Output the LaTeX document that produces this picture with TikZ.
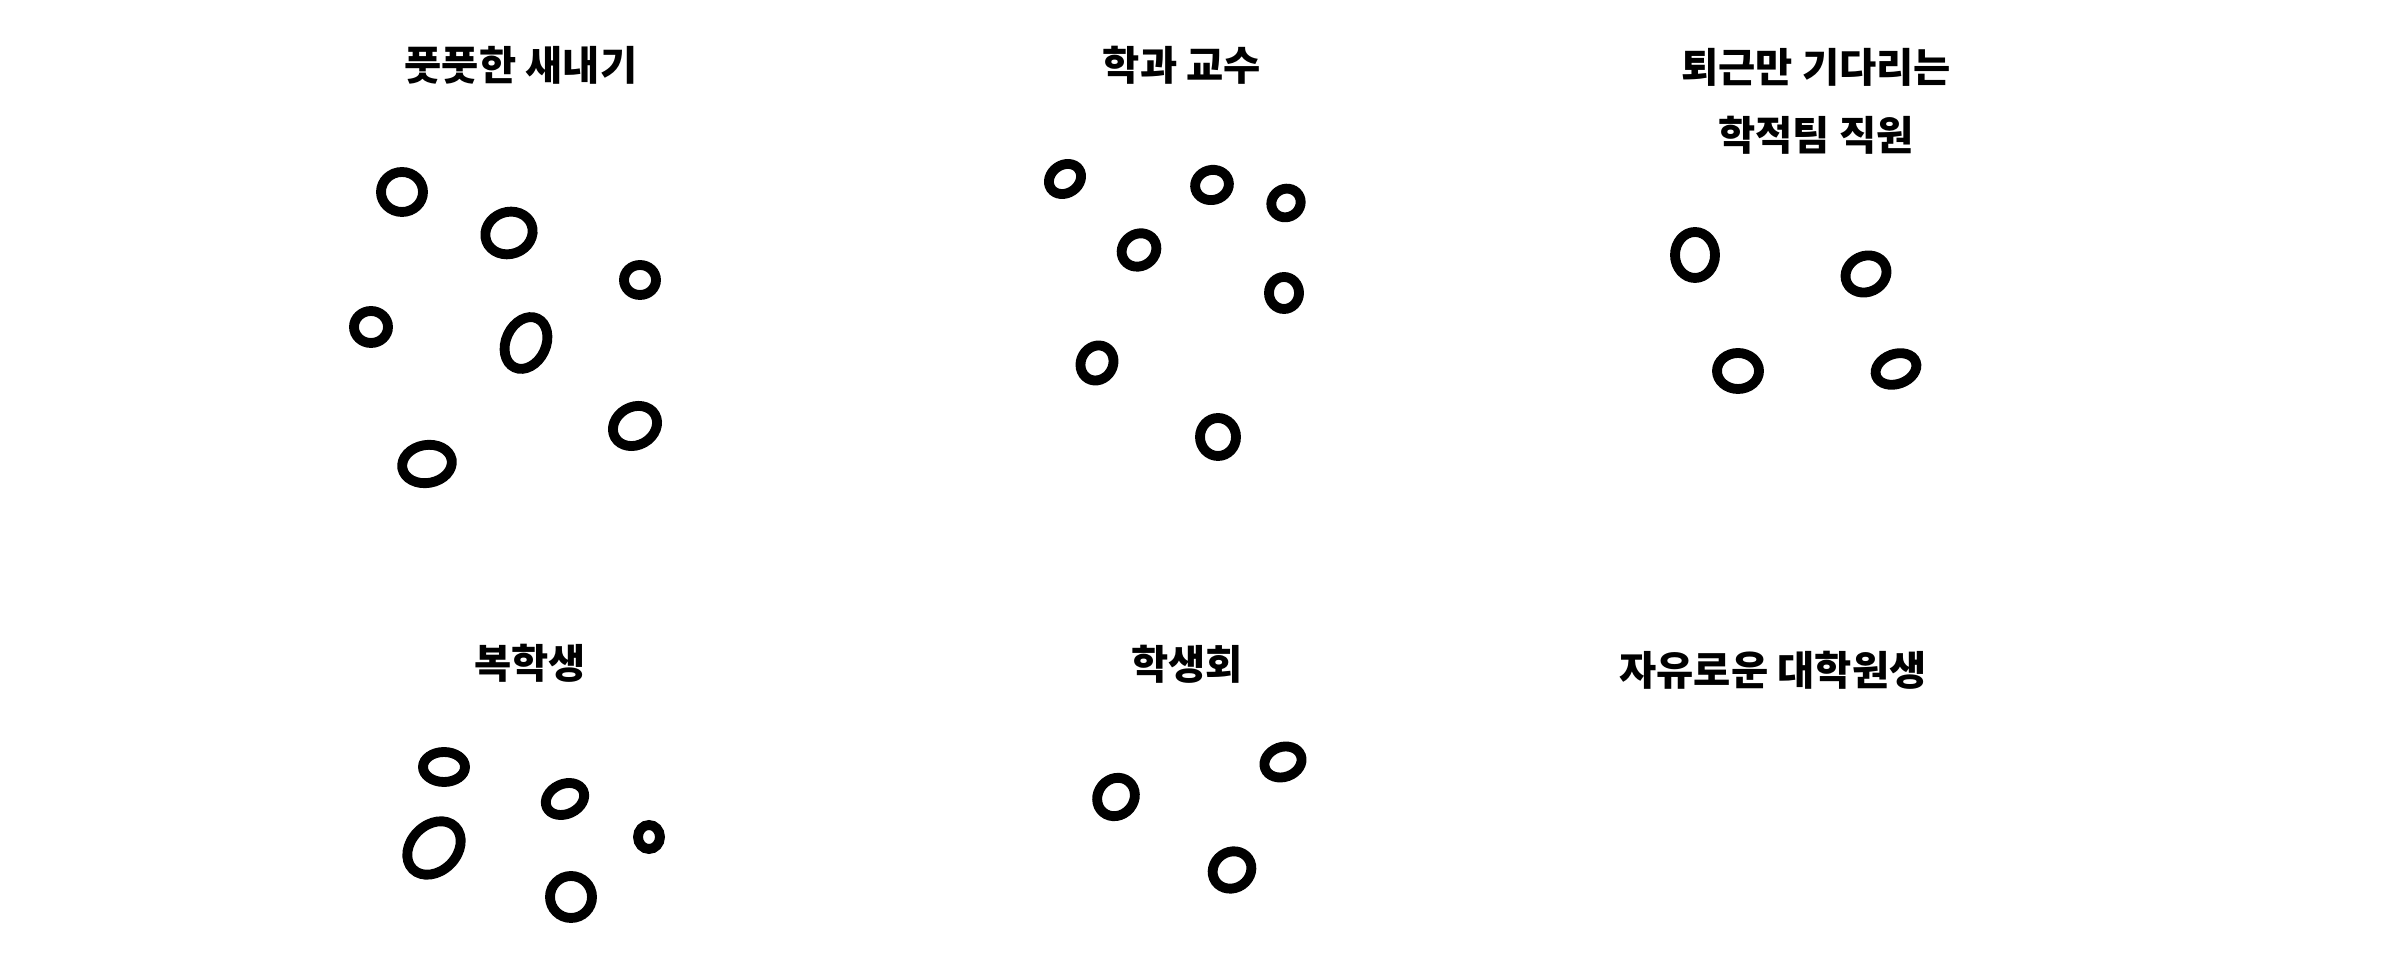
\documentclass[tikz,border=0pt]{standalone}
\usepackage{fontspec}
\usepackage{tikz}
\usetikzlibrary{positioning}
\newfontfamily\kfont{Noto Sans CJK KR}
\definecolor{inkblack}{RGB}{0,0,0}
\tikzset{
  grouplabel/.style={font=\kfont\bfseries\fontsize{11.5pt}{19.4pt}\selectfont,
    text=inkblack, align=center, inner sep=0pt},
  blob/.style={draw=inkblack, line width=2.8pt}
}
\begin{document}
\begin{tikzpicture}[x=0.01cm, y=-0.01cm]
  \useasboundingbox (0,0) rectangle (2400,974);

  % Titles
  \node[grouplabel] (fresh) at (521,65) {풋풋한 새내기};
  \node[grouplabel] (prof) at (1182,65) {학과 교수};
  \node[grouplabel] (staff) at (1816,101) {퇴근만 기다리는\\학적팀 직원};
  \node[grouplabel] (returnee) at (530,663) {복학생};
  \node[grouplabel] (council) at (1187,664) {학생회};
  \node[grouplabel] (gradstudent) at (1773,670) {자유로운 대학원생};

  % Members
  \foreach \cx/\cy/\rx/\ry/\ang in {402/192/21/20/0, 509/233/24/21/20,
      640/280/16/15/0, 371/327/17/16/0, 526/343/27/20/65,
      635/426/23/19/30, 427/464/25/19/10}
    \draw[blob, rotate around={\ang:(\cx,\cy)}] (\cx,\cy) ellipse [x radius=\rx, y radius=\ry];

  \foreach \cx/\cy/\rx/\ry/\ang in {1065/179/17/14/35, 1212/185/17/15/15,
      1286/203/15/14/35, 1139/250/18/16/35, 1284/293/15/16/0,
      1097/363/18/16/60, 1218/437/18/19/0}
    \draw[blob, rotate around={\ang:(\cx,\cy)}] (\cx,\cy) ellipse [x radius=\rx, y radius=\ry];

  \foreach \cx/\cy/\rx/\ry/\ang in {1695/255/20/23/0, 1866/274/21/18/25,
      1738/371/21/18/0, 1896/369/21/15/20}
    \draw[blob, rotate around={\ang:(\cx,\cy)}] (\cx,\cy) ellipse [x radius=\rx, y radius=\ry];

  \foreach \cx/\cy/\rx/\ry/\ang in {444/767/21/15/0, 565/799/20/15/25,
      434/848/30/23/45, 649/837/11/12/0, 571/897/21/21/0}
    \draw[blob, rotate around={\ang:(\cx,\cy)}] (\cx,\cy) ellipse [x radius=\rx, y radius=\ry];

  \foreach \cx/\cy/\rx/\ry/\ang in {1283/762/19/15/20, 1116/797/20/18/50,
      1232/870/20/18/35}
    \draw[blob, rotate around={\ang:(\cx,\cy)}] (\cx,\cy) ellipse [x radius=\rx, y radius=\ry];
\end{tikzpicture}
\end{document}
